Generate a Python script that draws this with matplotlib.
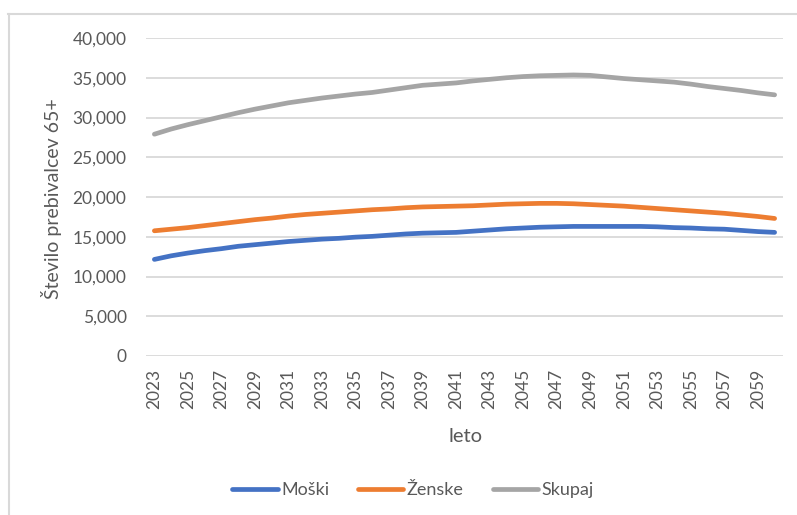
import matplotlib
matplotlib.use("Agg")
import matplotlib.pyplot as plt
from matplotlib.lines import Line2D
from matplotlib.ticker import FuncFormatter

plt.rcParams["font.family"] = ["Lato", "DejaVu Sans"]

years = list(range(2023, 2061))

moski = [12150, 12600, 12950, 13250, 13500, 13800, 14000, 14200, 14400, 14550,
         14700, 14800, 14950, 15050, 15200, 15350, 15450, 15500, 15550, 15700,
         15850, 16000, 16100, 16200, 16250, 16300, 16300, 16300, 16300, 16300,
         16250, 16150, 16100, 16000, 15950, 15800, 15650, 15550]

zenske = [15750, 15950, 16150, 16400, 16650, 16900, 17150, 17350, 17600, 17800,
          17950, 18100, 18250, 18400, 18500, 18650, 18750, 18800, 18850, 18900,
          19000, 19100, 19150, 19200, 19200, 19150, 19050, 18950, 18850, 18700,
          18550, 18400, 18250, 18100, 17950, 17750, 17550, 17300]

skupaj = [27900, 28550, 29100, 29600, 30100, 30600, 31050, 31450, 31850, 32150,
          32450, 32700, 32950, 33150, 33450, 33750, 34050, 34200, 34350, 34600,
          34800, 35000, 35150, 35250, 35300, 35350, 35300, 35100, 34900, 34750,
          34600, 34450, 34200, 33900, 33650, 33400, 33100, 32850]

series = [("Moški", moski, "#4472C4"),
          ("Ženske", zenske, "#ED7D31"),
          ("Skupaj", skupaj, "#A5A5A5")]

text_color = "#595959"
grid_color = "#D9D9D9"

fig = plt.figure(figsize=(7.97, 5.15), dpi=100)
ax = fig.add_axes([146 / 797, 1 - 356 / 515, (783 - 146) / 797, (356 - 38) / 515])

x = list(range(len(years)))
for name, vals, col in series:
    ax.plot(x, vals, color=col, lw=3.4, solid_capstyle="round", label=name, zorder=3)

ax.set_xlim(-0.5, len(years) - 0.5)
ax.set_ylim(0, 40000)
ax.set_yticks(range(0, 40001, 5000))
ax.yaxis.set_major_formatter(FuncFormatter(lambda v, p: f"{int(v):,}"))
ax.set_xticks(x[::2])
ax.set_xticklabels([str(y) for y in years[::2]], rotation=90)

ax.grid(axis="y", color=grid_color, lw=1.3, zorder=0)
ax.set_axisbelow(True)
for s in ax.spines.values():
    s.set_visible(False)
ax.tick_params(axis="both", length=0, colors=text_color, labelsize=12.5)
ax.tick_params(axis="y", pad=14)
ax.tick_params(axis="x", pad=9)

fig.text(52 / 797, 1 - 199 / 515, "Število prebivalcev 65+", rotation=90,
         ha="center", va="center", color=text_color, fontsize=14)

fig.text(465 / 797, 1 - 437 / 515, "leto", ha="center", va="center",
         color=text_color, fontsize=14.5)

handles = [Line2D([0], [0], color=c, lw=3.4, solid_capstyle="round") for _, _, c in series]
leg = fig.legend(handles, [n for n, _, _ in series], loc="center",
                 bbox_to_anchor=(413 / 797, 1 - 490 / 515), ncol=3, frameon=False,
                 fontsize=13, handlelength=2.5, handletextpad=0.2, columnspacing=1.6)
for t in leg.get_texts():
    t.set_color(text_color)

# chart frame
fig.add_artist(Line2D([8 / 797, 1], [1 - 13.5 / 515] * 2, transform=fig.transFigure,
                      color=grid_color, lw=1.5))
fig.add_artist(Line2D([8.5 / 797] * 2, [0, 1 - 13.5 / 515], transform=fig.transFigure,
                      color=grid_color, lw=1.5))

fig.savefig("out.png", dpi=100, facecolor="white")
